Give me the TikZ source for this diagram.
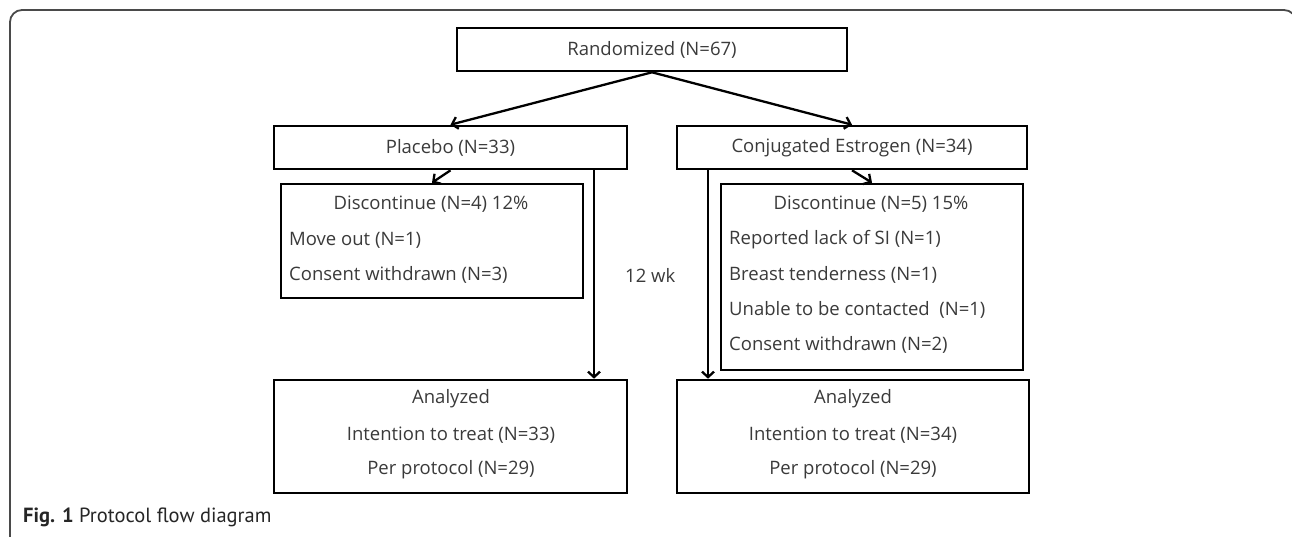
\documentclass[tikz,border=0pt]{standalone}
\usepackage{fontspec}
\setmainfont{Open Sans}
\newfontfamily\capfont{PT Sans}
\usetikzlibrary{arrows.meta}
\definecolor{txt}{HTML}{3A3A3A}
\definecolor{framec}{HTML}{4A4A4A}
\begin{document}
\begin{tikzpicture}[x=1pt, y=-1pt,
  box/.style={draw=black, line width=2.6pt, rectangle, inner sep=0pt},
  lbl/.style={font=\fontsize{18.5}{22}\selectfont, text=txt, inner sep=0pt},
  conn/.style={line width=2.3pt, -{Straight Barb[length=5.5pt,width=12pt]}}]
\useasboundingbox (0,0) rectangle (1292,537);
\begin{scope}
\clip (0,0) rectangle (1292,537);
\draw[framec, line width=1.8pt, rounded corners=12pt] (10,545) -- (10,10) -- (1296,10) -- (1296,545);
\end{scope}
% boxes
\node[box, minimum width=390pt, minimum height=43pt] (rand) at (652,49.5) {};
\node[box, minimum width=353pt, minimum height=43pt] (placebo) at (450.5,147.5) {};
\node[box, minimum width=350pt, minimum height=43pt] (conj) at (852,147.5) {};
\node[box, minimum width=302pt, minimum height=114pt] (discL) at (432,241) {};
\node[box, minimum width=302pt, minimum height=186pt] (discR) at (872,277) {};
\node[box, minimum width=353pt, minimum height=113pt] (anaL) at (450.5,436.5) {};
\node[box, minimum width=352pt, minimum height=113pt] (anaR) at (853,436.5) {};
% texts
\node[lbl] (trand) at (rand.center) {Randomized (N=67)};
\node[lbl] (tplac) at (placebo.center) {Placebo (N=33)};
\node[lbl] (tconj) at (conj.center) {Conjugated Estrogen (N=34)};
\node[lbl] (tdl) at (431,204) {Discontinue (N=4) 12\%};
\node[lbl, anchor=west] (tdl1) at (289,240) {Move out (N=1)};
\node[lbl, anchor=west] (tdl2) at (289,275) {Consent withdrawn (N=3)};
\node[lbl] (tdr) at (871,204) {Discontinue (N=5) 15\%};
\node[lbl, anchor=west] (tdr1) at (729,240) {Reported lack of SI (N=1)};
\node[lbl, anchor=west] (tdr2) at (729,275) {Breast tenderness (N=1)};
\node[lbl, anchor=west] (tdr3) at (729,310) {Unable to be contacted~~(N=1)};
\node[lbl, anchor=west] (tdr4) at (729,345) {Consent withdrawn (N=2)};
\node[lbl] (tal1) at (451,399) {Analyzed};
\node[lbl] (tal2) at (451,435) {Intention to treat (N=33)};
\node[lbl] (tal3) at (451,470) {Per protocol (N=29)};
\node[lbl] (tar1) at (853,399) {Analyzed};
\node[lbl] (tar2) at (853,435) {Intention to treat (N=34)};
\node[lbl] (tar3) at (853,470) {Per protocol (N=29)};
\node[lbl, anchor=west] (twk) at (625,275) {12 wk};
\node[anchor=west, inner sep=0pt, text=black!85, font=\capfont\fontsize{20.5}{24}\selectfont] (cap) at (23,517) {\textbf{Fig. 1} Protocol flow diagram};
% connectors
\coordinate (vl) at (594,0);
\coordinate (vr) at (708,0);
\draw[conn] (rand.south) -- (placebo.north);
\draw[conn] (rand.south) -- (conj.north);
\draw[conn] (placebo.south) -- (discL.north);
\draw[conn] (conj.south) -- (discR.north);
\draw[conn] (placebo.south -| vl) -- (anaL.north -| vl);
\draw[conn] (conj.south -| vr) -- (anaR.north -| vr);
\end{tikzpicture}
\end{document}
